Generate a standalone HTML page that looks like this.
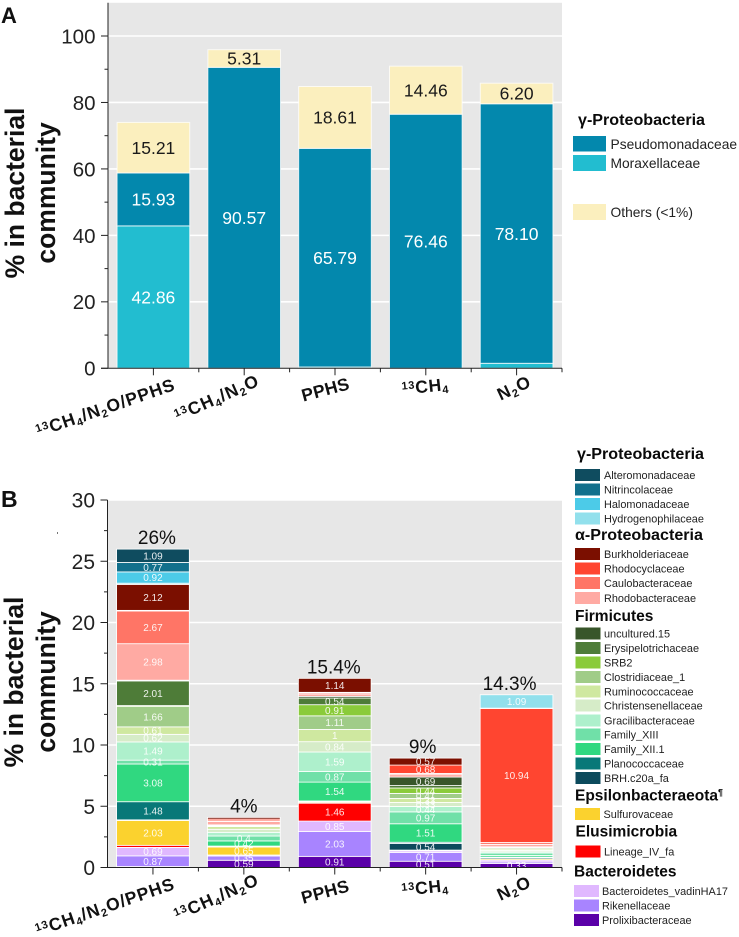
<!DOCTYPE html>
<html lang="en">
<head>
<meta charset="utf-8">
<title>Bacterial community composition</title>
<style>
html,body{margin:0;padding:0;background:#fff;}
svg{display:block;font-family:"Liberation Sans",sans-serif;}
.lg{font-size:10.9px;fill:#222;}
.lga{font-size:13.8px;fill:#222;}
.hd{font-size:15.5px;font-weight:bold;fill:#0a0a0a;}
.hdw{font-size:16.1px;}
</style>
</head>
<body>
<svg id="figure" width="739" height="937" viewBox="0 0 739 937" xmlns="http://www.w3.org/2000/svg">
  <text x="1" y="23" font-size="22" font-weight="bold" fill="#111">A</text>
  <text x="1" y="507" font-size="23" font-weight="bold" fill="#111">B</text>
  <rect x="57" y="532" width="0.8" height="2" fill="#555"/>

  <text transform="translate(24,193) rotate(-90)" text-anchor="middle" font-size="26.5" font-weight="bold" fill="#111">% in bacterial</text>
  <text transform="translate(55,193) rotate(-90)" text-anchor="middle" font-size="26.5" font-weight="bold" fill="#111">community</text>
  <text transform="translate(23,682) rotate(-90)" text-anchor="middle" font-size="26.5" font-weight="bold" fill="#111">% in bacterial</text>
  <text transform="translate(55,682) rotate(-90)" text-anchor="middle" font-size="26.5" font-weight="bold" fill="#111">community</text>

  <g id="chartA"></g>
  <g id="chartB"></g>

  <g>
    <text class="hd hdw" x="578" y="125">γ-Proteobacteria</text>
    <g><rect x="573" y="136" width="33" height="15.5" fill="#0388ad"/><text class="lga" x="610.5" y="149">Pseudomonadaceae</text></g>
    <g><rect x="573" y="155" width="33" height="16" fill="#22bdd0"/><text class="lga" x="610.5" y="168">Moraxellaceae</text></g>
    <g><rect x="573" y="204" width="33" height="16" fill="#fbefbe"/><text class="lga" x="610.5" y="217">Others (&lt;1%)</text></g>
  </g>

  <g>
    <text class="hd hdw" x="577" y="459">γ-Proteobacteria</text>
    <g><rect x="575" y="469" width="25" height="12" fill="#0f4c5f"/><text class="lg" x="604" y="479">Alteromonadaceae</text></g>
    <g><rect x="575" y="483.5" width="25" height="12" fill="#12708c"/><text class="lg" x="604" y="493.5">Nitrincolaceae</text></g>
    <g><rect x="575" y="498" width="25" height="12" fill="#4ccbe8"/><text class="lg" x="604" y="508">Halomonadaceae</text></g>
    <g><rect x="575" y="512.5" width="25" height="12" fill="#92e0ec"/><text class="lg" x="604" y="522.5">Hydrogenophilaceae</text></g>

    <text class="hd hdw" x="575" y="540">α-Proteobacteria</text>
    <g><rect x="575" y="548" width="25" height="12" fill="#7b0f00"/><text class="lg" x="604" y="558">Burkholderiaceae</text></g>
    <g><rect x="575" y="562.5" width="25" height="12" fill="#ff4530"/><text class="lg" x="604" y="572.5">Rhodocyclaceae</text></g>
    <g><rect x="575" y="577" width="25" height="12" fill="#ff7566"/><text class="lg" x="604" y="587">Caulobacteraceae</text></g>
    <g><rect x="575" y="592" width="25" height="12" fill="#ffaaa3"/><text class="lg" x="604" y="602">Rhodobacteraceae</text></g>

    <text class="hd" x="575" y="621">Firmicutes</text>
    <g><rect x="575.5" y="627.5" width="25" height="12" fill="#38562a"/><text class="lg" x="604" y="637.5">uncultured.15</text></g>
    <g><rect x="575.5" y="642" width="25" height="12" fill="#4e7c38"/><text class="lg" x="604" y="652">Erysipelotrichaceae</text></g>
    <g><rect x="575.5" y="656.5" width="25" height="12" fill="#8acb3a"/><text class="lg" x="604" y="666.5">SRB2</text></g>
    <g><rect x="575.5" y="671" width="25" height="12" fill="#a0cc88"/><text class="lg" x="604" y="681">Clostridiaceae_1</text></g>
    <g><rect x="575.5" y="685.5" width="25" height="12" fill="#cfe8a0"/><text class="lg" x="604" y="695.5">Ruminococcaceae</text></g>
    <g><rect x="575.5" y="699.5" width="25" height="12" fill="#d6ecc8"/><text class="lg" x="604" y="709.5">Christensenellaceae</text></g>
    <g><rect x="575.5" y="714.5" width="25" height="12" fill="#aef0cc"/><text class="lg" x="604" y="724.5">Gracilibacteraceae</text></g>
    <g><rect x="575.5" y="728.5" width="25" height="12" fill="#70e0a8"/><text class="lg" x="604" y="738.5">Family_XIII</text></g>
    <g><rect x="575.5" y="743" width="25" height="12" fill="#30d880"/><text class="lg" x="604" y="753">Family_XII.1</text></g>
    <g><rect x="575.5" y="757.5" width="25" height="12" fill="#087878"/><text class="lg" x="604" y="767.5">Planococcaceae</text></g>
    <g><rect x="575.5" y="772" width="25" height="12" fill="#0c4a5c"/><text class="lg" x="604" y="782">BRH.c20a_fa</text></g>

    <text class="hd" x="575" y="800.5">Epsilonbacteraeota<tspan font-size="9" dy="-5">¶</tspan></text>
    <g><rect x="575" y="808" width="25" height="12" fill="#fbd22e"/><text class="lg" x="603.5" y="818">Sulfurovaceae</text></g>

    <text class="hd" x="575.5" y="836.5">Elusimicrobia</text>
    <g><rect x="575.5" y="845.5" width="25" height="12" fill="#ff0000"/><text class="lg" x="604" y="855.5">Lineage_IV_fa</text></g>

    <text class="hd" x="574" y="876.5">Bacteroidetes</text>
    <g><rect x="574" y="885" width="25" height="12" fill="#e0b8ff"/><text class="lg" x="602" y="895">Bacteroidetes_vadinHA17</text></g>
    <g><rect x="574" y="899.5" width="25" height="12" fill="#a884ff"/><text class="lg" x="602" y="909.5">Rikenellaceae</text></g>
    <g><rect x="574" y="914" width="25" height="12" fill="#5a00a8"/><text class="lg" x="602" y="924">Prolixibacteraceae</text></g>
  </g>
</svg>
<script>
/* ---------- data: categories shared by both panels ---------- */
const categories = ['13CH4/N2O/PPHS', '13CH4/N2O', 'PPHS', '13CH4', 'N2O'];

/* ---------- panel A series ---------- */
const moraxellaceaeA = [42.86, 0, 0.4, 0, 1.5];
const pseudomonadaceaeA = [15.93, 90.57, 65.79, 76.46, 78.10];
const othersA = [15.21, 5.31, 18.61, 14.46, 6.20];
const ticksA = [0, 20, 40, 60, 80, 100];

/* ---------- panel B series (bottom to top of stack) ---------- */
const prolixibacteraceae = [0.08, 0.59, 0.91, 0.51, 0.33];
const rikenellaceae = [0.87, 0.35, 2.03, 0.71, 0.12];
const vadinHA17 = [0.69, 0.08, 0.85, 0.14, 0.15];
const lineageIV = [0.17, 0, 1.46, 0, 0];
const sulfurovaceae = [2.03, 0.65, 0.08, 0.06, 0.1];
const brhC20a = [0.05, 0.05, 0.05, 0.54, 0.1];
const planococcaceae = [1.48, 0.03, 0.05, 0.1, 0.05];
const familyXII1 = [3.08, 0.42, 1.54, 1.51, 0.13];
const familyXIII = [0.31, 0.4, 0.87, 0.97, 0.2];
const gracilibacteraceae = [1.49, 0.3, 1.59, 0.44, 0.1];
const christensenellaceae = [0.62, 0.25, 0.84, 0.33, 0.12];
const ruminococcaceae = [0.61, 0.22, 1, 0.33, 0.1];
const clostridiaceae1 = [1.66, 0.05, 1.11, 0.41, 0.1];
const srb2 = [0.08, 0.03, 0.91, 0.44, 0.03];
const erysipelotrichaceae = [2.01, 0.03, 0.54, 0.2, 0.03];
const uncultured15 = [0.06, 0.03, 0.14, 0.69, 0.03];
const rhodobacteraceae = [2.98, 0.28, 0.2, 0.2, 0.2];
const caulobacteraceae = [2.67, 0.05, 0.1, 0.1, 0.15];
const rhodocyclaceae = [0.05, 0.14, 0.03, 0.68, 10.94];
const burkholderiaceae = [2.12, 0.14, 1.14, 0.57, 0.03];
const hydrogenophilaceae = [0.1, 0, 0, 0, 1.09];
const halomonadaceae = [0.92, 0, 0, 0, 0];
const nitrincolaceae = [0.77, 0, 0, 0, 0];
const alteromonadaceae = [1.09, 0, 0, 0, 0];
const totalLabelsB = ['26%', '4%', '15.4%', '9%', '14.3%'];
const ticksB = [0, 5, 10, 15, 20, 25, 30];

/* ---------- styling / layout (not data) ---------- */
const NS = 'http://www.w3.org/2000/svg';
const seriesA = [
  ['moraxellaceae', moraxellaceaeA, '#22bdd0', '#fff'],
  ['pseudomonadaceae', pseudomonadaceaeA, '#0388ad', '#fff'],
  ['others', othersA, '#fbefbe', '#1a1a1a']
];
const seriesB = [
  ['prolixibacteraceae', prolixibacteraceae, '#5a00a8'],
  ['rikenellaceae', rikenellaceae, '#a884ff'],
  ['vadinha17', vadinHA17, '#e0b8ff'],
  ['lineage-iv', lineageIV, '#ff0000'],
  ['sulfurovaceae', sulfurovaceae, '#fbd22e'],
  ['brh-c20a', brhC20a, '#0c4a5c'],
  ['planococcaceae', planococcaceae, '#087878'],
  ['family-xii-1', familyXII1, '#30d880'],
  ['family-xiii', familyXIII, '#70e0a8'],
  ['gracilibacteraceae', gracilibacteraceae, '#aef0cc'],
  ['christensenellaceae', christensenellaceae, '#d6ecc8'],
  ['ruminococcaceae', ruminococcaceae, '#cfe8a0'],
  ['clostridiaceae-1', clostridiaceae1, '#a0cc88'],
  ['srb2', srb2, '#8acb3a'],
  ['erysipelotrichaceae', erysipelotrichaceae, '#4e7c38'],
  ['uncultured-15', uncultured15, '#38562a'],
  ['rhodobacteraceae', rhodobacteraceae, '#ffaaa3'],
  ['caulobacteraceae', caulobacteraceae, '#ff7566'],
  ['rhodocyclaceae', rhodocyclaceae, '#ff4530'],
  ['burkholderiaceae', burkholderiaceae, '#7b0f00'],
  ['hydrogenophilaceae', hydrogenophilaceae, '#92e0ec'],
  ['halomonadaceae', halomonadaceae, '#4ccbe8'],
  ['nitrincolaceae', nitrincolaceae, '#12708c'],
  ['alteromonadaceae', alteromonadaceae, '#0f4c5f']
];
const labelAngle = [-19, -24, -15, -6, -25];
const labelDx = [-46, -25, -8, 0, 0];
const labelDyA = [40, 30, 22, 19, 20];
const labelDyB = [40, 30, 25, 21, 21];
const labelSpacing = [0.9, 1.1, 0.3, 0.7, 1];
const totalNudge = [4, 0, -1, -3, -7];

function mk(parent, tag, attrs, text) {
  const e = document.createElementNS(NS, tag);
  for (const k in attrs) e.setAttribute(k, attrs[k]);
  if (text !== undefined) e.textContent = text;
  parent.appendChild(e);
  return e;
}

function makeAxes(g, prefix, yScale, ticks, yMax, left, right, base) {
  const bg = mk(g, 'rect', {x: left, y: yScale(yMax), width: right - left, height: base - yScale(yMax), fill: '#e7e7e7'});
  
  
  ticks.forEach(function (t) {
    if (t === 0) return;
    const gl = mk(g, 'line', {x1: left, x2: right, y1: yScale(t), y2: yScale(t), stroke: '#fff', 'stroke-width': 1.6});
    
    
  });
}

function finishAxes(g, prefix, yScale, ticks, minorStep, yMax, left, right, bandW, base, dyList, tickSize) {
  const yAxis = mk(g, 'line', {x1: left, x2: left, y1: yScale(yMax), y2: base, stroke: '#222', 'stroke-width': 1});
  
  
  const xAxis = mk(g, 'line', {x1: left - 7, x2: right, y1: base, y2: base, stroke: '#222', 'stroke-width': 1});
  
  
  ticks.forEach(function (t) {
    const tk = mk(g, 'line', {x1: left - 7, x2: left, y1: yScale(t), y2: yScale(t), stroke: '#222', 'stroke-width': 1});
    
    
    const lb = mk(g, 'text', {x: left - 12.5, y: yScale(t) + tickSize * 0.36, 'text-anchor': 'end', 'font-size': tickSize, fill: '#222'}, String(t));
    
    
    const m = t + minorStep;
    if (m < yMax) {
      const mn = mk(g, 'line', {x1: left - 3.5, x2: left, y1: yScale(m), y2: yScale(m), stroke: '#222', 'stroke-width': 1});
      
      
    }
  });
  categories.forEach(function (c, i) {
    const cx = left + bandW * (i + 0.5);
    const tk = mk(g, 'line', {x1: cx, x2: cx, y1: base, y2: base + 7, stroke: '#222', 'stroke-width': 1});
    
    
    const bt = mk(g, 'line', {x1: left + bandW * (i + 1), x2: left + bandW * (i + 1), y1: base, y2: base + 4, stroke: '#222', 'stroke-width': 1});
    
    
    const lb = mk(g, 'text', {
      transform: 'translate(' + (cx + labelDx[i]) + ',' + (base + dyList[i] + 5) + ') rotate(' + labelAngle[i] + ')',
      'text-anchor': 'middle', 'font-size': 17.5, 'font-weight': 'bold', fill: '#111',
      'letter-spacing': labelSpacing[i]
    });
    
    
    writeChem(lb, c);
  });
}

/* draws "13CH4/N2O" with real super/subscript tspans */
function writeChem(el, s) {
  let rest = s;
  function add(t, size, dy) {
    const a = {};
    if (size) a['font-size'] = size;
    if (dy) a.dy = dy;
    return mk(el, 'tspan', a, t);
  }
  let pending = 0;
  while (rest.length) {
    if (rest.indexOf('13') === 0) { add('13', 11, -5); pending = 5; rest = rest.slice(2); }
    else if (rest.indexOf('CH4') === 0) { add('CH', 0, pending); add('4', 11, 3); pending = -3; rest = rest.slice(3); }
    else if (rest.indexOf('N2O') === 0) { add('N', 0, pending); add('2', 11, 3); add('O', 0, -3); pending = 0; rest = rest.slice(3); }
    else { add(rest[0], 0, pending); pending = 0; rest = rest.slice(1); }
  }
}

/* ---------- panel A ---------- */
(function () {
  const g = document.getElementById('chartA');
  const left = 108, right = 562, base = 368.3, pxPerUnit = 3.323, yMax = 110;
  const y = function (v) { return base - v * pxPerUnit; };
  const bandW = (right - left) / categories.length;
  const barW = bandW * 0.8;
  makeAxes(g, 'panel-a', y, ticksA, yMax, left, right, base);
  categories.forEach(function (c, i) {
    const x = left + bandW * (i + 0.5) - barW / 2;
    let acc = 0;
    seriesA.forEach(function (s) {
      const v = s[1][i];
      if (!(v > 0)) return;
      const r = mk(g, 'rect', {x: x, y: y(acc + v), width: barW, height: v * pxPerUnit, fill: s[2], stroke: '#fff', 'stroke-opacity': 0.75, 'stroke-width': 1});
      
      
      if (v >= 3) {
        const t = mk(g, 'text', {x: x + barW / 2, y: y(acc + v / 2) + 6.2, 'text-anchor': 'middle', 'font-size': 17.5, fill: s[3]}, v.toFixed(2));
        
        
      }
      acc += v;
    });
  });
  finishAxes(g, 'panel-a', y, ticksA, 10, yMax, left, right, bandW, base, labelDyA, 20.5);
})();

/* ---------- panel B ---------- */
(function () {
  const g = document.getElementById('chartB');
  const left = 107.5, right = 562, base = 867.5, pxPerUnit = 12.25, yMax = 30;
  const y = function (v) { return base - v * pxPerUnit; };
  const bandW = (right - left) / categories.length;
  const barW = bandW * 0.8;
  makeAxes(g, 'panel-b', y, ticksB, yMax, left, right, base);
  categories.forEach(function (c, i) {
    const x = left + bandW * (i + 0.5) - barW / 2;
    let acc = 0;
    seriesB.forEach(function (s) {
      const v = s[1][i];
      if (!(v > 0)) return;
      const r = mk(g, 'rect', {x: x, y: y(acc + v), width: barW, height: v * pxPerUnit, fill: s[2], stroke: '#fff', 'stroke-width': 0.8});
      
      
      acc += v;
    });
    acc = 0;
    seriesB.forEach(function (s) {
      const v = s[1][i];
      if (!(v > 0)) return;
      if (v >= 0.31) {
        const t = mk(g, 'text', {x: x + barW / 2, y: y(acc + v / 2) + 3.6, 'text-anchor': 'middle', 'font-size': 10, fill: '#fff', 'fill-opacity': 0.9}, String(v));
        
        
      }
      acc += v;
    });
    const tot = mk(g, 'text', {x: x + barW / 2 + totalNudge[i], y: y(acc) - 5, 'text-anchor': 'middle', 'font-size': 19, fill: '#111'}, totalLabelsB[i]);
    
    
  });
  finishAxes(g, 'panel-b', y, ticksB, 2.5, yMax, left, right, bandW, base, labelDyB, 21);
})();
</script>
</body>
</html>
